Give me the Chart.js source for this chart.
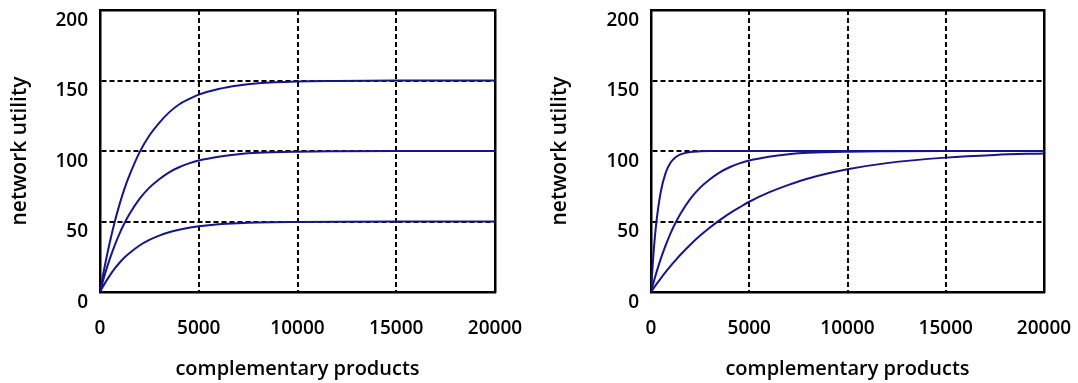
<!DOCTYPE html>
<html>
<head>
<meta charset="utf-8">
<script src="https://cdn.jsdelivr.net/npm/chart.js@4/dist/chart.umd.min.js"></script>
<style>
  html, body { margin: 0; padding: 0; background: #fff; }
  #wrap { position: relative; width: 1078px; height: 383px; }
  canvas { position: absolute; top: 0; }
</style>
</head>
<body>
<div id="wrap">
  <canvas id="c1" width="540" height="383" style="left:0"></canvas>
  <canvas id="c2" width="538" height="383" style="left:540px"></canvas>
</div>
<script>
// ---- data ----
const xValues = [0, 100, 250, 500, 750, 1000, 1250, 1500, 2000, 2500, 3000, 3500, 4000, 4500, 5000, 6000, 7000, 8000, 10000, 12000, 15000, 17500, 20000];

const left150 = [0, 7.9, 19, 35.5, 50, 62.7, 73.7, 83, 99, 111, 120, 127.4, 133, 136.8, 140, 144, 146.5, 148, 149.3, 149.7, 150, 150, 150];
const left100 = [0, 5.3, 12.7, 23.7, 33.3, 41.8, 49.1, 55.5, 66, 74, 80, 84.9, 88.5, 91.2, 93.3, 96, 97.7, 98.7, 99.5, 99.8, 100, 100, 100];
const left50  = [0, 2.6, 6.3, 11.8, 16.7, 20.9, 24.6, 27.7, 33, 37, 40, 42.4, 44.2, 45.6, 46.6, 48, 48.8, 49.3, 49.7, 49.9, 50, 50, 50];

const rightFast = [0, 22.1, 46.5, 71.3, 84.7, 91.8, 95.6, 97.6, 99.3, 99.8, 100, 100, 100, 100, 100, 100, 100, 100, 100, 100, 100, 100, 100];
const rightMid  = [0, 5.3, 12.7, 23.7, 33.3, 41.8, 49.1, 55.5, 66, 74, 80, 84.9, 88.5, 91.2, 93.3, 96, 97.7, 98.7, 99.5, 99.8, 100, 100, 100];
const rightSlow = [0, 2, 5, 9.7, 14.2, 18.5, 22.5, 26.4, 33.5, 40, 45.8, 51, 55.8, 60, 64, 70.6, 76, 80.5, 87, 91.4, 95.3, 97.2, 98.3];

const xTicks = [0, 5000, 10000, 15000, 20000];
const yTicks = [0, 50, 100, 150, 200];
const xTitle = 'complementary products';
const yTitle = 'network utility';

// ---- styling ----
const FONT = "'Open Sans', 'DejaVu Sans', sans-serif";
const LINE = '#16168c';

function series(ys) {
  return {
    data: xValues.map((x, i) => ({ x: x, y: ys[i] })),
    borderColor: LINE,
    borderWidth: 2,
    pointRadius: 0,
    fill: false,
    cubicInterpolationMode: 'monotone'
  };
}

function makeChart(id, sets, yAxisWidth, padRight) {
  const xMin = xTicks[0], xMax = xTicks[xTicks.length - 1];
  const yMin = yTicks[0], yMax = yTicks[yTicks.length - 1];
  const gridColor = (lo, hi) => (ctx) => {
    const v = ctx.tick ? ctx.tick.value : null;
    return (v === lo || v === hi) ? 'rgba(0,0,0,0)' : '#000';
  };
  return new Chart(document.getElementById(id), {
    type: 'line',
    data: { datasets: sets.map(series) },
    options: {
      responsive: false,
      animation: false,
      devicePixelRatio: 1,
      layout: { padding: { top: 10, right: padRight, left: 0, bottom: 0 } },
      plugins: { legend: { display: false }, tooltip: { enabled: false } },
      scales: {
        x: {
          type: 'linear', position: 'bottom',
          min: xMin, max: xMax,
          afterBuildTicks: (s) => { s.ticks = xTicks.map(v => ({ value: v })); },
          ticks: {
            color: '#000', padding: 25,
            font: { family: FONT, size: 19, weight: '600' },
            maxRotation: 0,
            callback: (v) => String(v)
          },
          grid: { color: gridColor(xMin, xMax), lineWidth: 2, drawTicks: false },
          border: { display: true, color: '#000', width: 2.5, dash: [5, 3] },
          title: {
            display: true, text: xTitle, color: '#000',
            font: { family: FONT, size: 20, weight: '600' },
            padding: { top: 0, bottom: 2 }
          },
          afterFit: (s) => { s.height = 91; s.paddingLeft = 0; s.paddingRight = 0; }
        },
        y: {
          type: 'linear', position: 'left',
          min: yMin, max: yMax,
          afterBuildTicks: (s) => { s.ticks = yTicks.map(v => ({ value: v })); },
          ticks: {
            color: '#000', padding: 12,
            font: { family: FONT, size: 19, weight: '600', lineHeight: '21px' },
            callback: (v) => ['', String(v)]
          },
          grid: { color: gridColor(yMin, yMax), lineWidth: 2, drawTicks: false },
          border: { display: true, color: '#000', width: 2.5, dash: [5, 3] },
          title: {
            display: true, text: yTitle, color: '#000',
            font: { family: FONT, size: 21, weight: '600' },
            padding: { top: 7, bottom: 0 }
          },
          afterFit: (s) => { s.width = yAxisWidth; s.paddingTop = 0; s.paddingBottom = 0; }
        },
        x2: {
          type: 'linear', position: 'top', axis: 'x',
          min: xMin, max: xMax,
          ticks: { display: false },
          grid: { display: false, drawTicks: false },
          border: { display: true, color: '#000', width: 2.5 },
          afterFit: (s) => { s.height = 0; s.paddingLeft = 0; s.paddingRight = 0; }
        },
        y2: {
          type: 'linear', position: 'right', axis: 'y',
          min: yMin, max: yMax,
          ticks: { display: false },
          grid: { display: false, drawTicks: false },
          border: { display: true, color: '#000', width: 2.5 },
          afterFit: (s) => { s.width = 0; s.paddingTop = 0; s.paddingBottom = 0; }
        }
      }
    }
  });
}

makeChart('c1', [left150, left100, left50], 100, 45);
makeChart('c2', [rightFast, rightMid, rightSlow], 111, 34);
</script>
</body>
</html>
